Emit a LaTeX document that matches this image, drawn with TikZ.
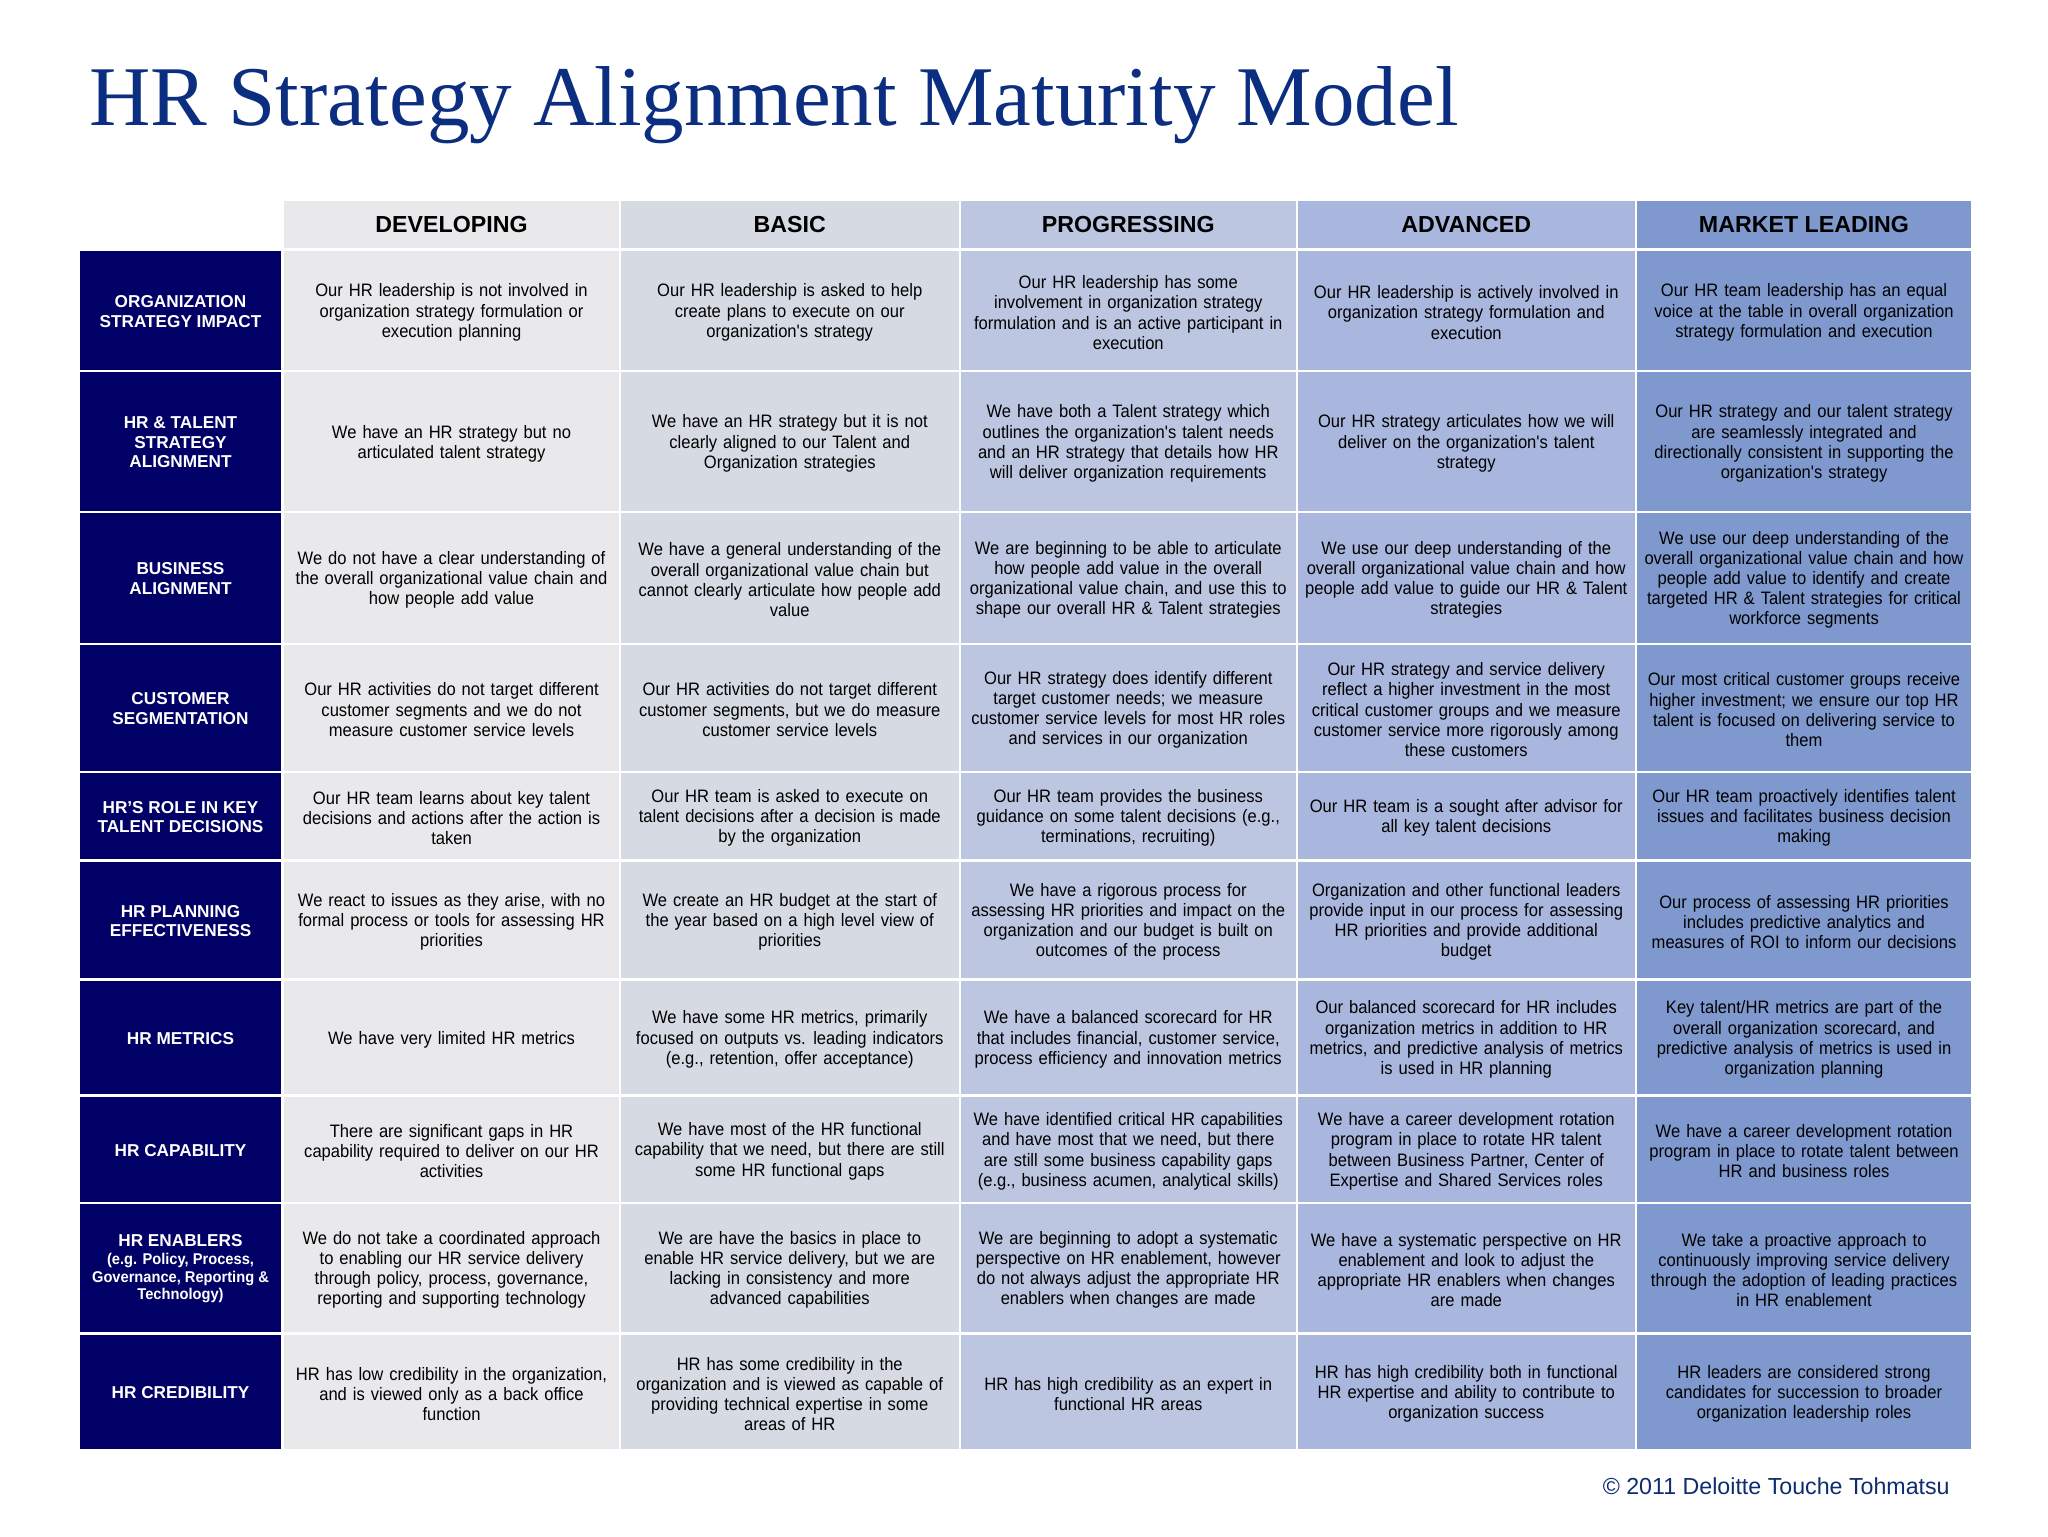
\documentclass[tikz,border=0pt]{standalone}
\usepackage{fontspec}
\setmainfont{Liberation Sans}
\newfontfamily\titlefont{Liberation Serif}
\newfontfamily\bodyfont[FakeStretch=0.92,WordSpace=1.3]{Liberation Sans}
\newfontfamily\subfont[FakeStretch=0.94]{Liberation Sans Bold}
\newcommand\subline[1]{{\fontsize{7.8}{8.8}\selectfont\subfont #1}}
\definecolor{navycell}{HTML}{000066}
\definecolor{colA}{HTML}{E9E9EC}
\definecolor{colB}{HTML}{D6DAE2}
\definecolor{colC}{HTML}{BCC6E1}
\definecolor{colD}{HTML}{A9B6DD}
\definecolor{colE}{HTML}{7F99CE}
\definecolor{titleblue}{HTML}{0B2E80}
\definecolor{copyblue}{HTML}{0F2C6F}
\tikzset{
  cellbase/.style={inner sep=0pt,outer sep=0pt,align=center,text=black},
  bodycell/.style={cellbase,font=\fontsize{9}{10.1}\selectfont\bodyfont},
  headcell/.style={cellbase,font=\fontsize{11.6}{13}\selectfont\bfseries},
  labelcell/.style={cellbase,fill=navycell,text=white,font=\fontsize{8.6}{9.8}\selectfont\bfseries},
}
% #8-free: \celldy is the downward offset of the text inside its cell
\newcommand\cellbox[7]{%
  \pgfmathsetmacro\cellcx{(#2+#3)/2}%
  \pgfmathsetmacro\cellcy{(#4+#5)/2}%
  \pgfmathsetmacro\cellty{(#4+#5)/2+\celldy}%
  \pgfmathsetmacro\cellw{(#3-#2)*0.5}%
  \pgfmathsetmacro\cellh{(#5-#4)*0.5}%
  \node[#6,minimum width=\cellw pt,minimum height=\cellh pt] (#1) at (\cellcx,\cellcy) {};%
  \node[#6,fill=none] (#1t) at (\cellcx,\cellty) {#7};%
}
\newcommand\tablerow[9]{%
  \def\celldy{1}%
  \cellbox{r#1l}{80}{281}{#2}{#3}{labelcell}{#4}%
  \def\celldy{2}%
  \cellbox{r#1a}{284}{619}{#2}{#3}{bodycell,fill=colA}{#5}%
  \cellbox{r#1b}{621}{958.5}{#2}{#3}{bodycell,fill=colB}{#6}%
  \cellbox{r#1c}{961}{1295.5}{#2}{#3}{bodycell,fill=colC}{#7}%
  \cellbox{r#1d}{1298}{1634.5}{#2}{#3}{bodycell,fill=colD}{#8}%
  \cellbox{r#1e}{1637}{1971}{#2}{#3}{bodycell,fill=colE}{#9}%
}
\begin{document}
\begin{tikzpicture}[x=0.5pt,y=-0.5pt]
\useasboundingbox (0,0) rectangle (2048,1536);
\node[anchor=base west,inner sep=0pt,text=titleblue,font=\fontsize{42.5}{46}\selectfont\titlefont] (title) at (89,126) {HR Strategy Alignment Maturity Model};
\def\celldy{0}
\cellbox{h1}{284}{619}{201}{248}{headcell,fill=colA}{DEVELOPING}
\cellbox{h2}{621}{958.5}{201}{248}{headcell,fill=colB}{BASIC}
\cellbox{h3}{961}{1295.5}{201}{248}{headcell,fill=colC}{PROGRESSING}
\cellbox{h4}{1298}{1634.5}{201}{248}{headcell,fill=colD}{ADVANCED}
\cellbox{h5}{1637}{1971}{201}{248}{headcell,fill=colE}{MARKET LEADING}
\tablerow{1}{251}{370}{ORGANIZATION\\STRATEGY IMPACT}
 {Our HR leadership is not involved in\\organization strategy formulation or\\execution planning}
 {Our HR leadership is asked to help\\create plans to execute on our\\organization's strategy}
 {Our HR leadership has some\\involvement in organization strategy\\formulation and is an active participant in\\execution}
 {Our HR leadership is actively involved in\\organization strategy formulation and\\execution}
 {Our HR team leadership has an equal\\voice at the table in overall organization\\strategy formulation and execution}
\tablerow{2}{372}{511}{HR \& TALENT\\STRATEGY\\ALIGNMENT}
 {We have an HR strategy but no\\articulated talent strategy}
 {We have an HR strategy but it is not\\clearly aligned to our Talent and\\Organization strategies}
 {We have both a Talent strategy which\\outlines the organization's talent needs\\and an HR strategy that details how HR\\will deliver organization requirements}
 {Our HR strategy articulates how we will\\deliver on the organization's talent\\strategy}
 {Our HR strategy and our talent strategy\\are seamlessly integrated and\\directionally consistent in supporting the\\organization's strategy}
\tablerow{3}{513}{642.5}{BUSINESS\\ALIGNMENT}
 {We do not have a clear understanding of\\the overall organizational value chain and\\how people add value}
 {We have a general understanding of the\\overall organizational value chain but\\cannot clearly articulate how people add\\value}
 {We are beginning to be able to articulate\\how people add value in the overall\\organizational value chain, and use this to\\shape our overall HR \& Talent strategies}
 {We use our deep understanding of the\\overall organizational value chain and how\\people add value to guide our HR \& Talent\\strategies}
 {We use our deep understanding of the\\overall organizational value chain and how\\people add value to identify and create\\targeted HR \& Talent strategies for critical\\workforce segments}
\tablerow{4}{645}{770.5}{CUSTOMER\\SEGMENTATION}
 {Our HR activities do not target different\\customer segments and we do not\\measure customer service levels}
 {Our HR activities do not target different\\customer segments, but we do measure\\customer service levels}
 {Our HR strategy does identify different\\target customer needs; we measure\\customer service levels for most HR roles\\and services in our organization}
 {Our HR strategy and service delivery\\reflect a higher investment in the most\\critical customer groups and we measure\\customer service more rigorously among\\these customers}
 {Our most critical customer groups receive\\higher investment; we ensure our top HR\\talent is focused on delivering service to\\them}
\tablerow{5}{773}{859}{HR'S ROLE IN KEY\\TALENT DECISIONS}
 {Our HR team learns about key talent\\decisions and actions after the action is\\taken}
 {Our HR team is asked to execute on\\talent decisions after a decision is made\\by the organization}
 {Our HR team provides the business\\guidance on some talent decisions (e.g.,\\terminations, recruiting)}
 {Our HR team is a sought after advisor for\\all key talent decisions}
 {Our HR team proactively identifies talent\\issues and facilitates business decision\\making}
\tablerow{6}{862}{978}{HR PLANNING\\EFFECTIVENESS}
 {We react to issues as they arise, with no\\formal process or tools for assessing HR\\priorities}
 {We create an HR budget at the start of\\the year based on a high level view of\\priorities}
 {We have a rigorous process for\\assessing HR priorities and impact on the\\organization and our budget is built on\\outcomes of the process}
 {Organization and other functional leaders\\provide input in our process for assessing\\HR priorities and provide additional\\budget}
 {Our process of assessing HR priorities\\includes predictive analytics and\\measures of ROI to inform our decisions}
\tablerow{7}{981}{1094}{HR METRICS}
 {We have very limited HR metrics}
 {We have some HR metrics, primarily\\focused on outputs vs. leading indicators\\(e.g., retention, offer acceptance)}
 {We have a balanced scorecard for HR\\that includes financial, customer service,\\process efficiency and innovation metrics}
 {Our balanced scorecard for HR includes\\organization metrics in addition to HR\\metrics, and predictive analysis of metrics\\is used in HR planning}
 {Key talent/HR metrics are part of the\\overall organization scorecard, and\\predictive analysis of metrics is used in\\organization planning}
\tablerow{8}{1097}{1201.5}{HR CAPABILITY}
 {There are significant gaps in HR\\capability required to deliver on our HR\\activities}
 {We have most of the HR functional\\capability that we need, but there are still\\some HR functional gaps}
 {We have identified critical HR capabilities\\and have most that we need, but there\\are still some business capability gaps\\(e.g., business acumen, analytical skills)}
 {We have a career development rotation\\program in place to rotate HR talent\\between Business Partner, Center of\\Expertise and Shared Services roles}
 {We have a career development rotation\\program in place to rotate talent between\\HR and business roles}
\tablerow{9}{1204}{1332}{HR ENABLERS\\[-1pt]\subline{(e.g. Policy, Process,}\\[-1pt]\subline{Governance, Reporting \&}\\[-1pt]\subline{Technology)}}
 {We do not take a coordinated approach\\to enabling our HR service delivery\\through policy, process, governance,\\reporting and supporting technology}
 {We are have the basics in place to\\enable HR service delivery, but we are\\lacking in consistency and more\\advanced capabilities}
 {We are beginning to adopt a systematic\\perspective on HR enablement, however\\do not always adjust the appropriate HR\\enablers when changes are made}
 {We have a systematic perspective on HR\\enablement and look to adjust the\\appropriate HR enablers when changes\\are made}
 {We take a proactive approach to\\continuously improving service delivery\\through the adoption of leading practices\\in HR enablement}
\tablerow{10}{1335}{1449}{HR CREDIBILITY}
 {HR has low credibility in the organization,\\and is viewed only as a back office\\function}
 {HR has some credibility in the\\organization and is viewed as capable of\\providing technical expertise in some\\areas of HR}
 {HR has high credibility as an expert in\\functional HR areas}
 {HR has high credibility both in functional\\HR expertise and ability to contribute to\\organization success}
 {HR leaders are considered strong\\candidates for succession to broader\\organization leadership roles}
\node[anchor=base east,inner sep=0pt,text=copyblue,font=\fontsize{11.6}{13}\selectfont] (copy) at (1950,1494) {\textcopyright{} 2011 Deloitte Touche Tohmatsu};
\end{tikzpicture}
\end{document}
